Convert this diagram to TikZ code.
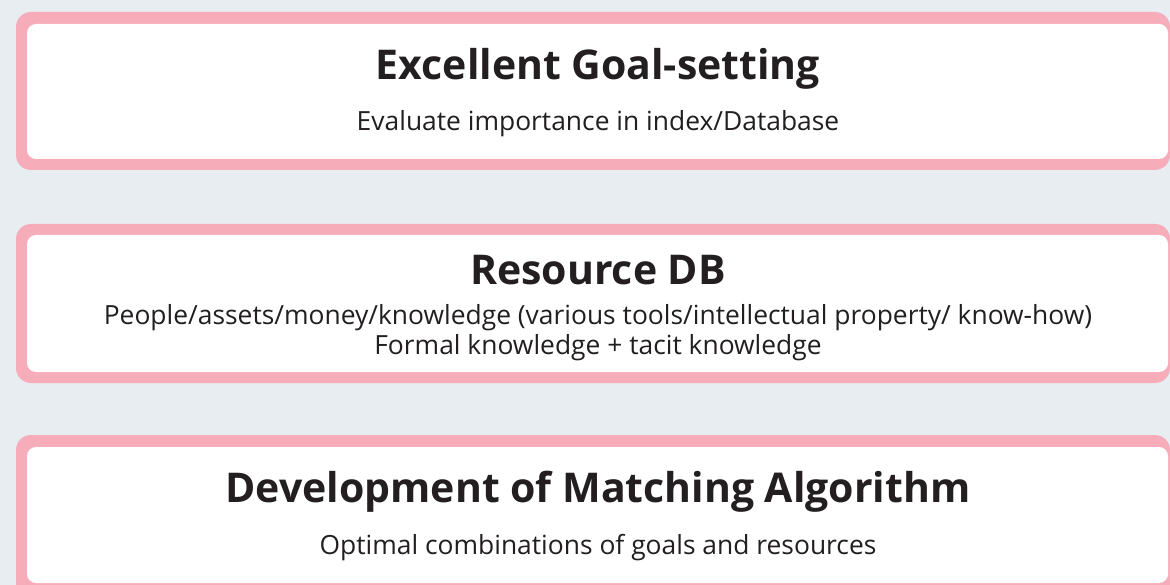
\documentclass[tikz,border=0pt]{standalone}
\usepackage{fontspec}
\setmainfont{Open Sans}
\usepackage{tikz}
\definecolor{pinkframe}{RGB}{247,172,186}
\definecolor{bggray}{RGB}{232,237,241}
\definecolor{ink}{RGB}{35,31,32}

\begin{document}
\begin{tikzpicture}[x=1pt,y=-1pt,
    frame/.style={fill=pinkframe,rounded corners=15pt},
    panel/.style={fill=white,rounded corners=9pt},
    title/.style={text=ink,inner sep=0pt,anchor=base,font=\fontsize{41}{48}\selectfont\bfseries},
    sub/.style={text=ink,inner sep=0pt,anchor=base,font=\fontsize{26.4}{32}\selectfont}]
     \useasboundingbox (0,0) rectangle (1170,585);
     \clip (0,0) rectangle (1170,585);
     \fill[bggray] (0,0) rectangle (1170,585);
     \fill[frame] (16, 12) rectangle (1170,170);
     \fill[panel] (27, 24) rectangle (1168,159);
     \fill[frame] (16,224) rectangle (1170,383);
     \fill[panel] (27,235) rectangle (1168,372);
     \fill[frame] (16,435) rectangle (1170,600);
     \fill[panel] (27,447) rectangle (1168,583);
     \node[title] (goal)  at (598, 80) {Excellent Goal-setting};
     \node[sub]   (eval)  at (598,131) {Evaluate importance in index/Database};
     \node[title] (rdb)   at (598,285) {Resource DB};
     \node[sub]   (res)   at (598,324) {People/assets/money/knowledge (various tools/intellectual property/ know-how)};
     \node[sub]   (tacit) at (598,355) {Formal knowledge + tacit knowledge};
     \node[title] (algo)  at (598,502) {Development of Matching Algorithm};
     \node[sub]   (comb)  at (598,554) {Optimal combinations of goals and resources};
    \end{tikzpicture}
\end{document}
